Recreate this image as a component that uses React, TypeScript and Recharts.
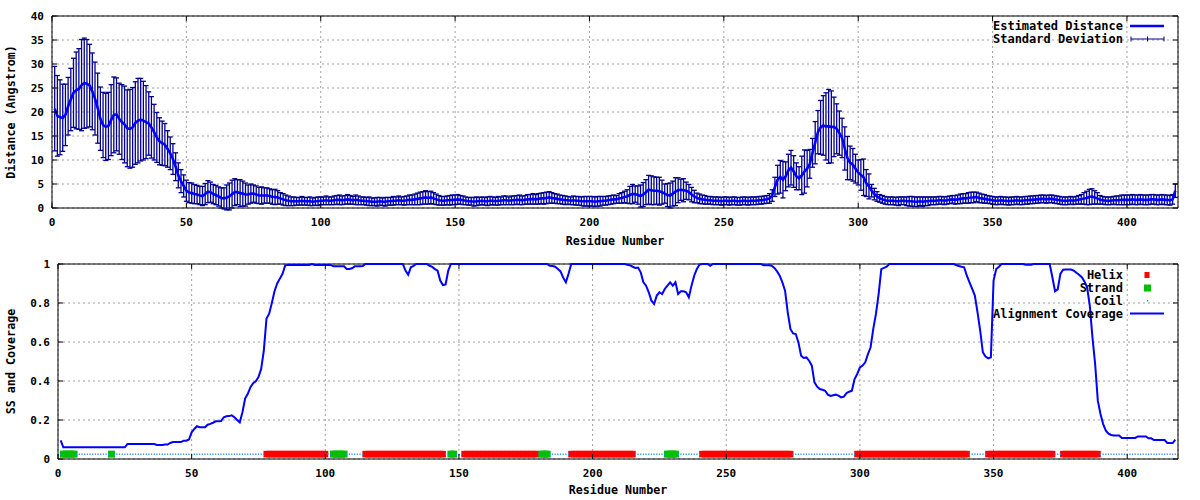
import React from 'react';
import {
  ComposedChart,
  Line,
  Scatter,
  XAxis,
  YAxis,
  CartesianGrid,
  ErrorBar,
  ReferenceArea,
} from 'recharts';

// tick labels
const residueTicks = [0, 50, 100, 150, 200, 250, 300, 350, 400];
const distanceTicks = [0, 5, 10, 15, 20, 25, 30, 35, 40];
const coverageTicks = [0, 0.2, 0.4, 0.6, 0.8, 1];

// estimated distance per residue (1..418)
const distance = [
  20.7, 19.2, 18.9, 18.8, 19.4, 21.2, 22.6, 24.0, 24.5, 24.8, // 1
  25.6, 26.0, 25.9, 25.5, 24.3, 22.8, 20.8, 18.6, 17.3, 16.9, // 11
  17.1, 18.3, 19.4, 19.5, 18.6, 17.9, 17.4, 16.6, 16.5, 16.8, // 21
  17.7, 18.2, 18.4, 18.2, 17.9, 17.6, 16.8, 15.8, 14.7, 13.9, // 31
  13.5, 13.2, 12.3, 11.4, 10.2, 8.6, 6.8, 5.6, 4.6, 3.6, // 41
  3.2, 3.1, 2.9, 2.8, 2.6, 2.5, 2.9, 3.4, 3.3, 2.9, // 51
  2.7, 2.4, 2.1, 2.0, 2.2, 2.4, 2.9, 3.3, 3.3, 3.1, // 61
  3.0, 2.8, 2.8, 3.0, 3.0, 2.8, 2.6, 2.6, 2.6, 2.6, // 71
  2.5, 2.3, 2.3, 2.2, 2.0, 1.8, 1.6, 1.5, 1.4, 1.4, // 81
  1.4, 1.4, 1.5, 1.4, 1.4, 1.4, 1.3, 1.4, 1.4, 1.5, // 91
  1.5, 1.6, 1.5, 1.5, 1.6, 1.7, 1.7, 1.6, 1.7, 1.8, // 101
  1.7, 1.6, 1.7, 1.6, 1.5, 1.5, 1.4, 1.4, 1.3, 1.3, // 111
  1.3, 1.4, 1.3, 1.3, 1.4, 1.4, 1.5, 1.5, 1.6, 1.5, // 121
  1.5, 1.6, 1.7, 1.7, 1.8, 1.9, 2.0, 2.1, 2.2, 2.1, // 131
  2.2, 2.0, 1.8, 1.6, 1.5, 1.5, 1.6, 1.6, 1.7, 1.7, // 141
  1.8, 1.7, 1.6, 1.5, 1.4, 1.4, 1.3, 1.4, 1.4, 1.5, // 151
  1.4, 1.4, 1.5, 1.5, 1.4, 1.5, 1.5, 1.6, 1.6, 1.5, // 161
  1.6, 1.6, 1.7, 1.7, 1.6, 1.7, 1.8, 1.8, 1.9, 1.8, // 171
  1.9, 2.0, 2.0, 2.1, 2.2, 2.1, 2.0, 1.9, 1.8, 1.7, // 181
  1.6, 1.6, 1.5, 1.6, 1.5, 1.5, 1.4, 1.4, 1.4, 1.4, // 191
  1.4, 1.3, 1.4, 1.4, 1.5, 1.5, 1.6, 1.7, 1.8, 1.8, // 201
  2.0, 2.1, 2.3, 2.4, 2.7, 2.9, 2.9, 2.7, 2.5, 2.8, // 211
  3.3, 3.8, 3.7, 3.6, 3.6, 3.5, 3.3, 3.0, 2.7, 2.6, // 221
  3.0, 3.4, 3.7, 3.8, 3.7, 3.6, 3.3, 2.8, 2.4, 2.1, // 231
  1.9, 1.8, 1.7, 1.6, 1.6, 1.5, 1.5, 1.5, 1.4, 1.5, // 241
  1.5, 1.4, 1.5, 1.5, 1.4, 1.4, 1.5, 1.5, 1.4, 1.5, // 251
  1.5, 1.5, 1.6, 1.6, 1.7, 1.8, 2.0, 2.6, 4.4, 5.9, // 261
  6.5, 5.9, 6.6, 7.8, 8.4, 7.6, 6.6, 6.2, 6.8, 7.6, // 271
  8.2, 9.2, 11.5, 13.6, 15.8, 16.8, 17.2, 17.0, 17.0, 16.9, // 281
  16.9, 16.5, 15.6, 14.6, 12.4, 10.4, 9.4, 9.0, 8.2, 7.4, // 291
  6.9, 6.4, 5.2, 4.5, 3.6, 2.9, 2.4, 2.0, 1.8, 1.6, // 301
  1.5, 1.5, 1.5, 1.4, 1.4, 1.5, 1.5, 1.4, 1.4, 1.4, // 311
  1.3, 1.3, 1.4, 1.3, 1.4, 1.4, 1.5, 1.5, 1.5, 1.6, // 321
  1.6, 1.5, 1.6, 1.7, 1.8, 1.7, 1.8, 1.9, 2.0, 2.0, // 331
  2.1, 2.2, 2.2, 2.3, 2.1, 2.0, 1.9, 1.8, 1.7, 1.6, // 341
  1.5, 1.5, 1.6, 1.5, 1.5, 1.4, 1.5, 1.5, 1.6, 1.5, // 351
  1.5, 1.6, 1.6, 1.7, 1.7, 1.8, 1.8, 1.9, 1.9, 1.8, // 361
  1.9, 1.9, 1.8, 1.7, 1.6, 1.5, 1.5, 1.5, 1.6, 1.5, // 371
  1.6, 1.7, 1.8, 2.0, 2.1, 2.3, 2.4, 2.2, 2.0, 1.7, // 381
  1.6, 1.5, 1.5, 1.5, 1.6, 1.6, 1.6, 1.7, 1.7, 1.7, // 391
  1.7, 1.8, 1.7, 1.7, 1.8, 1.7, 1.7, 1.7, 1.8, 1.8, // 401
  1.7, 1.7, 1.8, 1.7, 1.7, 1.6, 1.8, 3.6, // 411
];

// standard deviation per residue (1..418)
const stdDev = [
  8.8, 8.4, 7.8, 7.0, 6.4, 6.0, 6.5, 7.2, 8.0, 8.4, // 1
  9.5, 9.4, 9.2, 8.6, 8.0, 7.6, 7.3, 6.6, 6.8, 7.0, // 11
  7.0, 7.4, 7.9, 7.6, 7.4, 7.8, 8.0, 8.0, 8.2, 8.3, // 21
  8.6, 8.8, 8.6, 8.2, 7.6, 6.6, 6.4, 5.8, 5.2, 4.9, // 31
  4.6, 4.4, 3.8, 3.4, 3.2, 2.9, 2.6, 2.4, 2.3, 2.2, // 41
  2.1, 2.1, 2.0, 1.9, 1.9, 2.0, 2.2, 2.3, 2.1, 2.0, // 51
  2.0, 2.0, 2.1, 2.2, 2.6, 2.8, 2.9, 2.8, 2.6, 2.8, // 61
  2.6, 2.4, 2.0, 2.0, 1.8, 1.8, 1.7, 1.8, 1.6, 1.6, // 71
  1.5, 1.5, 1.6, 1.4, 1.2, 1.2, 1.1, 1.0, 0.9, 0.9, // 81
  0.8, 0.8, 0.9, 0.8, 0.8, 0.9, 0.8, 0.8, 0.9, 0.8, // 91
  0.8, 0.9, 0.8, 0.8, 0.9, 0.9, 1.0, 0.9, 0.9, 1.0, // 101
  0.9, 0.8, 1.0, 0.9, 0.8, 0.8, 0.8, 0.9, 0.8, 0.8, // 111
  0.9, 0.8, 0.8, 0.9, 0.8, 0.8, 0.9, 0.8, 0.9, 0.8, // 121
  0.9, 0.9, 1.0, 1.0, 1.1, 1.2, 1.3, 1.3, 1.4, 1.3, // 131
  1.3, 1.2, 1.1, 1.0, 0.9, 0.9, 0.9, 1.0, 1.0, 1.0, // 141
  1.0, 0.9, 0.9, 0.8, 0.8, 0.8, 0.9, 0.9, 0.8, 0.8, // 151
  0.8, 0.9, 0.9, 0.8, 0.8, 0.9, 0.8, 0.9, 0.9, 0.8, // 161
  0.9, 0.9, 0.9, 1.0, 0.9, 0.9, 1.0, 1.0, 1.1, 1.0, // 171
  1.1, 1.1, 1.2, 1.2, 1.2, 1.1, 1.0, 1.0, 0.9, 0.9, // 181
  0.9, 0.8, 0.8, 0.9, 0.9, 0.9, 0.9, 1.0, 1.0, 1.0, // 191
  1.0, 1.0, 1.0, 1.0, 0.9, 0.9, 0.9, 0.9, 0.9, 0.8, // 201
  1.0, 1.1, 1.2, 1.4, 1.8, 2.0, 1.7, 1.9, 2.3, 2.5, // 211
  2.6, 3.0, 3.0, 2.9, 2.8, 2.9, 2.5, 2.0, 2.4, 2.6, // 221
  2.6, 2.9, 2.6, 2.2, 2.4, 1.8, 1.6, 1.5, 1.3, 1.0, // 231
  1.0, 0.9, 0.9, 0.8, 0.8, 0.8, 0.8, 0.8, 0.8, 0.8, // 241
  0.8, 0.8, 0.8, 0.8, 0.8, 0.8, 0.8, 0.8, 0.8, 0.8, // 251
  0.8, 0.8, 0.8, 0.8, 0.8, 0.8, 1.0, 1.2, 2.0, 3.0, // 261
  3.4, 3.8, 3.0, 3.4, 3.6, 3.3, 2.8, 2.4, 4.0, 4.5, // 271
  3.8, 3.0, 3.0, 4.4, 4.5, 5.6, 6.2, 7.0, 7.7, 7.5, // 281
  6.2, 5.2, 4.6, 4.1, 4.5, 4.5, 3.5, 3.4, 3.0, 2.6, // 291
  3.2, 3.8, 2.8, 2.6, 1.3, 1.2, 1.0, 0.8, 0.8, 0.8, // 301
  0.8, 0.8, 0.8, 0.8, 0.9, 0.8, 0.8, 0.9, 1.0, 1.0, // 311
  1.0, 1.0, 0.9, 1.0, 0.9, 0.9, 0.8, 0.8, 0.8, 0.8, // 321
  0.8, 0.8, 0.8, 0.8, 0.8, 0.9, 0.9, 1.0, 1.0, 1.0, // 331
  1.1, 1.1, 1.1, 1.0, 1.0, 0.9, 0.9, 0.8, 0.8, 0.8, // 341
  0.8, 0.8, 0.8, 0.8, 0.8, 0.8, 0.8, 0.8, 0.8, 0.8, // 351
  0.8, 0.8, 0.8, 0.8, 0.8, 0.8, 0.8, 0.8, 0.8, 0.8, // 361
  0.8, 0.8, 0.8, 0.8, 0.8, 0.8, 0.8, 0.8, 0.8, 0.8, // 371
  0.8, 0.9, 1.0, 1.2, 1.4, 1.6, 1.6, 1.4, 1.2, 0.9, // 381
  0.8, 0.8, 0.8, 0.8, 0.8, 0.9, 0.9, 1.0, 1.0, 1.0, // 391
  1.0, 1.0, 1.0, 1.0, 1.0, 1.0, 1.0, 1.0, 1.0, 1.0, // 401
  1.0, 1.0, 1.0, 1.0, 1.0, 1.0, 1.0, 1.4, // 411
];

// alignment coverage per residue (1..418)
const coverage = [
  0.095, 0.06, 0.06, 0.06, 0.06, 0.06, 0.06, 0.06, 0.06, 0.06, // 1
  0.06, 0.06, 0.06, 0.06, 0.06, 0.06, 0.06, 0.06, 0.06, 0.06, // 11
  0.06, 0.06, 0.06, 0.06, 0.06, 0.077, 0.077, 0.077, 0.077, 0.077, // 21
  0.077, 0.077, 0.077, 0.077, 0.077, 0.077, 0.072, 0.072, 0.072, 0.074, // 31
  0.074, 0.082, 0.087, 0.087, 0.087, 0.087, 0.094, 0.094, 0.1, 0.137, // 41
  0.154, 0.168, 0.163, 0.163, 0.163, 0.176, 0.18, 0.186, 0.193, 0.193, // 51
  0.195, 0.214, 0.219, 0.22, 0.224, 0.214, 0.2, 0.188, 0.24, 0.31, // 61
  0.334, 0.368, 0.389, 0.399, 0.42, 0.462, 0.556, 0.72, 0.745, 0.8, // 71
  0.86, 0.9, 0.925, 0.95, 0.993, 0.995, 0.995, 0.995, 0.995, 0.995, // 81
  0.995, 0.995, 0.995, 0.995, 1, 0.995, 0.995, 0.995, 0.995, 0.995, // 91
  0.995, 0.995, 0.988, 0.988, 0.988, 0.988, 0.988, 0.974, 0.974, 0.978, // 101
  0.988, 0.988, 0.988, 0.99, 1, 1, 1, 1, 1, 1, // 111
  1, 1, 1, 1, 1, 1, 1, 1, 1, 0.966, // 121
  0.945, 0.983, 0.99, 1, 1, 1, 1, 1, 0.991, 0.985, // 131
  0.974, 0.966, 0.915, 0.892, 0.895, 0.966, 1, 1, 1, 1, // 141
  1, 1, 1, 1, 1, 1, 1, 1, 1, 1, // 151
  1, 1, 1, 1, 1, 1, 1, 1, 1, 1, // 161
  1, 1, 1, 1, 1, 1, 1, 1, 1, 1, // 171
  1, 1, 1, 0.991, 0.99, 0.986, 0.974, 0.962, 0.93, 0.906, // 181
  0.95, 1, 1, 1, 1, 1, 1, 1, 1, 1, // 191
  1, 1, 1, 1, 1, 1, 1, 1, 1, 1, // 201
  1, 1, 0.996, 0.993, 0.986, 0.98, 0.982, 0.957, 0.906, 0.889, // 211
  0.855, 0.812, 0.795, 0.838, 0.855, 0.846, 0.872, 0.889, 0.906, 0.889, // 221
  0.906, 0.846, 0.86, 0.86, 0.855, 0.829, 0.889, 0.94, 0.974, 0.997, // 231
  1, 1, 1, 0.991, 1, 1, 1, 1, 1, 1, // 241
  1, 1, 1, 1, 1, 1, 1, 1, 1, 1, // 251
  1, 1, 1, 0.993, 0.993, 0.993, 0.991, 0.98, 0.962, 0.94, // 261
  0.906, 0.863, 0.752, 0.667, 0.644, 0.641, 0.598, 0.53, 0.518, 0.521, // 271
  0.504, 0.479, 0.393, 0.371, 0.359, 0.355, 0.35, 0.33, 0.323, 0.327, // 281
  0.33, 0.325, 0.316, 0.32, 0.338, 0.345, 0.35, 0.41, 0.436, 0.47, // 291
  0.479, 0.496, 0.538, 0.573, 0.667, 0.744, 0.846, 0.974, 0.98, 0.986, // 301
  1, 1, 1, 1, 1, 1, 1, 1, 1, 1, // 311
  1, 1, 1, 1, 1, 1, 1, 1, 1, 1, // 321
  1, 1, 1, 1, 1, 0.995, 0.99, 0.986, 0.983, 0.94, // 331
  0.906, 0.872, 0.838, 0.752, 0.658, 0.547, 0.525, 0.516, 0.521, 0.915, // 341
  0.974, 0.986, 1, 1, 1, 1, 1, 1, 1, 1, // 351
  1, 0.996, 0.996, 0.996, 1, 1, 1, 1, 1, 1, // 361
  1, 0.932, 0.86, 0.87, 0.949, 0.971, 0.972, 0.972, 0.972, 0.966, // 371
  0.955, 0.945, 0.932, 0.91, 0.88, 0.786, 0.624, 0.487, 0.299, 0.231, // 381
  0.179, 0.145, 0.13, 0.123, 0.12, 0.12, 0.12, 0.108, 0.108, 0.108, // 391
  0.108, 0.108, 0.108, 0.116, 0.116, 0.116, 0.116, 0.106, 0.106, 0.097, // 401
  0.097, 0.097, 0.097, 0.097, 0.082, 0.082, 0.082, 0.099, // 411
];

// secondary structure segments (first, last residue)
const helixRanges = [
  [78, 100], [115, 144], [152, 179], [192, 215],
  [241, 274], [299, 340], [348, 372], [376, 389],
];
const strandRanges = [
  [2, 6], [20, 20], [103, 107], [147, 148], [181, 183], [228, 231],
];
const ssLevel = 0.025;

const FONT = '"DejaVu Sans Mono", "Liberation Mono", monospace';
const BLUE = '#0000ff';
const NAVY = '#00008b';
const GRID = '#a0a0a0';
const HELIX = '#ff0000';
const STRAND = '#00c000';
const COIL = '#1a8cff';

const distanceRows = distance.map((d, i) => ({ res: i + 1, dist: d, sd: stdDev[i] }));
const coverageRows = coverage.map((c, i) => ({ res: i + 1, cov: c }));

const inRanges = (r: number, ranges: number[][]) => ranges.some(([a, b]) => r >= a && r <= b);
const helixPts = coverageRows.filter((p) => inRanges(p.res, helixRanges)).map((p) => ({ res: p.res, ss: ssLevel }));
const strandPts = coverageRows.filter((p) => inRanges(p.res, strandRanges)).map((p) => ({ res: p.res, ss: ssLevel }));
const coilPts = coverageRows
  .filter((p) => !inRanges(p.res, helixRanges) && !inRanges(p.res, strandRanges))
  .map((p) => ({ res: p.res, ss: ssLevel }));

const TICK = 5;

function yTick(left: number, right: number, fmt: (v: number) => string) {
  return (props: any) => {
    const { x, y, payload } = props;
    return (
      <g>
        <line x1={left} x2={left + TICK} y1={y} y2={y} stroke="#000" />
        <line x1={right - TICK} x2={right} y1={y} y2={y} stroke="#000" />
        <text x={x} y={y} textAnchor="end" dominantBaseline="central" fontFamily={FONT} fontSize={11} fontWeight="bold" fill="#000">
          {fmt(payload.value)}
        </text>
      </g>
    );
  };
}

function xTick(top: number, bottom: number) {
  return (props: any) => {
    const { x, payload } = props;
    return (
      <g>
        <line x1={x} x2={x} y1={bottom} y2={bottom - TICK} stroke="#000" />
        <line x1={x} x2={x} y1={top} y2={top + TICK} stroke="#000" />
        <text x={x} y={bottom + 14} textAnchor="middle" dominantBaseline="central" fontFamily={FONT} fontSize={11} fontWeight="bold" fill="#000">
          {payload.value}
        </text>
      </g>
    );
  };
}

const titleStyle = { fontFamily: FONT, fontSize: 11.7, fontWeight: 'bold' as const, fill: '#000' };

const yTitle = (text: string) => (p: any) => {
  const vb = p.viewBox || { x: 0, y: 0, width: 0, height: 0 };
  const cy = vb.y + vb.height / 2;
  return (
    <text transform={`translate(11, ${cy}) rotate(-90)`} textAnchor="middle" dominantBaseline="central" {...titleStyle}>
      {text}
    </text>
  );
};

const xTitle = (text: string, dy: number) => (p: any) => {
  const vb = p.viewBox || { x: 0, y: 0, width: 0, height: 0 };
  return (
    <text x={vb.x + vb.width / 2} y={vb.y + dy} textAnchor="middle" dominantBaseline="central" {...titleStyle}>
      {text}
    </text>
  );
};

const legendText = { fontFamily: FONT, fontSize: 12, fontWeight: 'bold' as const, fill: '#000', textAnchor: 'end' as const, dominantBaseline: 'central' as const };

export default function App() {
  return (
    <div style={{ position: 'absolute', left: 0, top: 0, width: 1200, height: 500, background: '#fff' }}>
      <div style={{ position: 'absolute', left: 0, top: 0 }}>
        <ComposedChart width={1200} height={252} data={distanceRows} margin={{ top: 16, right: 22, bottom: 0, left: 0 }}>
          <CartesianGrid stroke={GRID} strokeDasharray="2 3" />
          <XAxis
            dataKey="res"
            type="number"
            domain={[0, 419]}
            ticks={residueTicks}
            interval={0}
            height={44}
            axisLine={false}
            tickLine={false}
            tickSize={0}
            tickMargin={0}
            tick={xTick(16, 208)}
            label={{ content: xTitle('Residue Number', 33) }}
          />
          <YAxis
            type="number"
            domain={[0, 40]}
            ticks={distanceTicks}
            interval={0}
            allowDataOverflow
            width={52}
            axisLine={false}
            tickLine={false}
            tickSize={0}
            tickMargin={8}
            tick={yTick(52, 1178, (v) => String(v))}
            label={{ content: yTitle('Distance (Angstrom)') }}
          />
          <ReferenceArea x1={0} x2={419} y1={0} y2={40} fill="none" stroke="#000" strokeWidth={1} ifOverflow="visible" />
          <Line dataKey="dist" stroke="none" dot={false} activeDot={false} isAnimationActive={false}>
            <ErrorBar dataKey="sd" width={2.5} stroke={NAVY} strokeWidth={1.3} direction="y" />
          </Line>
          <Line dataKey="dist" type="linear" stroke={BLUE} strokeWidth={2.6} dot={false} activeDot={false} isAnimationActive={false} />
        </ComposedChart>
      </div>

      <div style={{ position: 'absolute', left: 0, top: 245 }}>
        <ComposedChart width={1200} height={255} data={coverageRows} margin={{ top: 19, right: 22, bottom: 0, left: 0 }}>
          <CartesianGrid stroke={GRID} strokeDasharray="2 3" />
          <XAxis
            dataKey="res"
            type="number"
            domain={[0, 419]}
            ticks={residueTicks}
            interval={0}
            height={41}
            axisLine={false}
            tickLine={false}
            tickSize={0}
            tickMargin={0}
            tick={xTick(19, 214)}
            label={{ content: xTitle('Residue Number', 31) }}
          />
          <YAxis
            type="number"
            domain={[0, 1]}
            ticks={coverageTicks}
            interval={0}
            width={58}
            axisLine={false}
            tickLine={false}
            tickSize={0}
            tickMargin={8}
            tick={yTick(58, 1178, (v) => String(v))}
            label={{ content: yTitle('SS and Coverage') }}
          />
          <ReferenceArea x1={0} x2={419} y1={0} y2={1} fill="none" stroke="#000" strokeWidth={1} ifOverflow="visible" />
          <Scatter
            data={helixPts}
            dataKey="ss"
            fill={HELIX}
            isAnimationActive={false}
            shape={(p: any) => <rect x={p.cx - 3} y={p.cy - 3.3} width={6} height={6.6} fill={HELIX} />}
          />
          <Scatter
            data={strandPts}
            dataKey="ss"
            fill={STRAND}
            isAnimationActive={false}
            shape={(p: any) => <rect x={p.cx - 3.5} y={p.cy - 3.5} width={7} height={7} fill={STRAND} />}
          />
          <Scatter
            data={coilPts}
            dataKey="ss"
            fill={COIL}
            isAnimationActive={false}
            shape={(p: any) => <rect x={p.cx - 0.6} y={p.cy - 0.6} width={1.2} height={1.4} fill={COIL} />}
          />
          <Line dataKey="cov" type="linear" stroke={BLUE} strokeWidth={2} dot={false} activeDot={false} isAnimationActive={false} />
        </ComposedChart>
      </div>

      <svg width={1200} height={500} style={{ position: 'absolute', left: 0, top: 0, pointerEvents: 'none' }}>
        <text x={1123} y={26} {...legendText}>Estimated Distance</text>
        <line x1={1130} x2={1164} y1={26} y2={26} stroke={BLUE} strokeWidth={2.5} />
        <text x={1123} y={39} {...legendText}>Standard Deviation</text>
        <line x1={1131} x2={1164} y1={39} y2={39} stroke={NAVY} />
        <line x1={1131} x2={1131} y1={36.5} y2={41.5} stroke={NAVY} />
        <line x1={1147.5} x2={1147.5} y1={36.5} y2={41.5} stroke={NAVY} />
        <line x1={1164} x2={1164} y1={36.5} y2={41.5} stroke={NAVY} />

        <text x={1123} y={275} {...legendText}>Helix</text>
        <rect x={1144.5} y={272} width={5} height={6} fill={HELIX} />
        <text x={1123} y={288} {...legendText}>Strand</text>
        <rect x={1144} y={284.5} width={7} height={7} fill={STRAND} />
        <text x={1123} y={301} {...legendText}>Coil</text>
        <rect x={1147} y={300} width={1.2} height={1.4} fill={COIL} />
        <text x={1123} y={313.5} {...legendText}>Alignment Coverage</text>
        <line x1={1130} x2={1164} y1={313.5} y2={313.5} stroke={BLUE} strokeWidth={2} />
      </svg>
    </div>
  );
}
